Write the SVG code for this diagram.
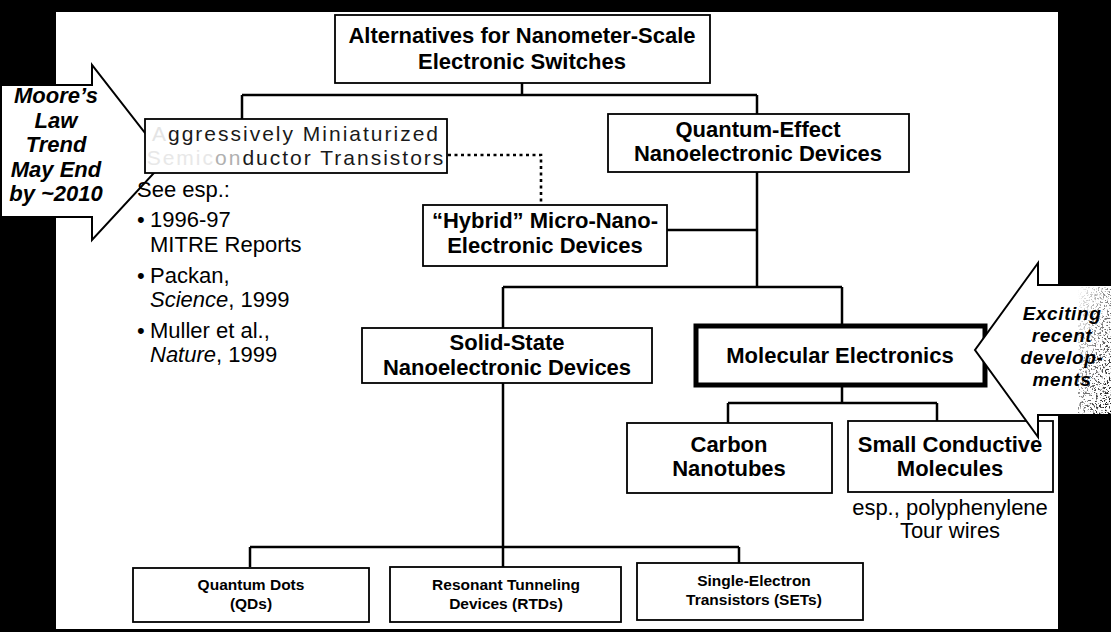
<svg xmlns="http://www.w3.org/2000/svg" width="1111" height="632" viewBox="0 0 1111 632">
<defs>
<style>
.box{fill:#fff;stroke:#000;stroke-width:1.8}
.thick{fill:#fff;stroke:#000;stroke-width:5}
.lbl{font-family:"Liberation Sans",Arial,sans-serif;font-weight:bold;font-size:22px;fill:#000;text-anchor:middle}
.sm{font-size:15.5px}
.con{fill:none;stroke:#000;stroke-width:2.5}
.dot{fill:none;stroke:#000;stroke-width:2.6;stroke-dasharray:3 3.5}
.arrow{fill:#fff;stroke:#000;stroke-width:2;stroke-linejoin:miter}
.note{font-family:"Liberation Sans",Arial,sans-serif;font-size:22px;fill:#000}
.call{font-family:"Liberation Sans",Arial,sans-serif;font-weight:bold;font-style:italic;font-size:22px;fill:#000;text-anchor:middle}
.call2{font-family:"Liberation Sans",Arial,sans-serif;font-weight:bold;font-style:italic;font-size:19px;letter-spacing:0.6px;fill:#000;text-anchor:middle}
.faded{font-family:"Liberation Sans",Arial,sans-serif;font-size:21px;letter-spacing:2px;fill:#1a1a1a;text-anchor:middle}
</style>
<filter id="speck" x="0" y="0" width="100%" height="100%">
<feTurbulence type="fractalNoise" baseFrequency="0.55" numOctaves="2" seed="4" result="n"/>
<feColorMatrix in="n" type="matrix" values="0 0 0 0 0  0 0 0 0 0  0 0 0 0 0  0 0 0 -10 4.6" result="a"/>
<feComposite in="a" in2="SourceGraphic" operator="in"/>
</filter>
<linearGradient id="fade" x1="0" y1="0" x2="1" y2="1">
<stop offset="0" stop-color="#000" stop-opacity="0"/>
<stop offset="0.5" stop-color="#000" stop-opacity="0.5"/>
<stop offset="1" stop-color="#000" stop-opacity="1"/>
</linearGradient>
</defs>

<rect id="background" x="0" y="0" width="1111" height="632" fill="#000"/>
<rect id="panel" x="56" y="12" width="1002" height="617" fill="#fff"/>

<g id="connectors">
<path class="con" d="M522,83 V95 M242,95 H757 M242,95 V119 M757,95 V114"/>
<path class="con" d="M757,172 V287 M667,230 H757 M503,287 H842 M503,287 V328 M842,287 V326"/>
<path class="con" d="M503,383 V567 M250,547 H739 M250,547 V567 M739,547 V563"/>
<path class="con" d="M842,385 V403 M728,403 H937 M728,403 V423 M937,403 V421"/>
<path class="dot" d="M448,155 H541 V205"/>
</g>

<g id="moore-arrow">
<polygon class="arrow" points="1,85 92,85 92,65 166,160 92,240 92,217 1,217"/>
<text class="call" x="56" y="103">Moore’s</text>
<text class="call" x="56" y="128">Law</text>
<text class="call" x="56" y="152">Trend</text>
<text class="call" x="56" y="177">May End</text>
<text class="call" x="56" y="201">by ~2010</text>
</g>

<g id="node-top">
<rect class="box" x="335" y="15" width="375" height="68"/>
<text class="lbl" x="522" y="43">Alternatives for Nanometer-Scale</text>
<text class="lbl" x="522" y="69">Electronic Switches</text>
</g>

<g id="node-aggressive">
<rect class="box" x="145" y="119" width="302" height="54"/>
<text class="faded" x="296" y="141"><tspan fill="#e4e4e4">A</tspan>ggressively Miniaturized</text>
<text class="faded" x="296" y="165"><tspan fill="#e8e8e8">Semic</tspan><tspan fill="#b0b0b0">on</tspan>ductor Transistors</text>
</g>

<g id="node-quantum">
<rect class="box" x="608" y="114" width="301" height="58"/>
<text class="lbl" x="758" y="137">Quantum-Effect</text>
<text class="lbl" x="758" y="161">Nanoelectronic Devices</text>
</g>

<g id="node-hybrid">
<rect class="box" x="423" y="205" width="244" height="61"/>
<text class="lbl" x="545" y="228">“Hybrid” Micro-Nano-</text>
<text class="lbl" x="545" y="253">Electronic Devices</text>
</g>

<g id="node-notes">
<text class="note" x="137" y="197">See esp.:</text>
<text class="note" x="137" y="227">•</text>
<text class="note" x="150" y="227">1996-97</text>
<text class="note" x="150" y="252">MITRE Reports</text>
<text class="note" x="137" y="283">•</text>
<text class="note" x="150" y="283">Packan,</text>
<text class="note" x="150" y="307"><tspan font-style="italic">Science</tspan>, 1999</text>
<text class="note" x="137" y="338">•</text>
<text class="note" x="150" y="338">Muller et al.,</text>
<text class="note" x="150" y="362"><tspan font-style="italic">Nature</tspan>, 1999</text>
</g>

<g id="node-solid">
<rect class="box" x="362" y="328" width="290" height="55"/>
<text class="lbl" x="507" y="350" font-size="21">Solid-State</text>
<text class="lbl" x="507" y="375" font-size="21">Nanoelectronic Devices</text>
</g>

<g id="node-molecular">
<rect class="thick" x="696" y="326" width="289" height="59"/>
<text class="lbl" x="840" y="363">Molecular Electronics</text>
</g>

<g id="node-carbon">
<rect class="box" x="627" y="423" width="205" height="70"/>
<text class="lbl" x="729" y="452">Carbon</text>
<text class="lbl" x="729" y="476">Nanotubes</text>
</g>

<g id="node-small">
<rect class="box" x="848" y="421" width="205" height="71"/>
<text class="lbl" x="950" y="452">Small Conductive</text>
<text class="lbl" x="950" y="476">Molecules</text>
<text class="note" x="950" y="515" text-anchor="middle">esp., polyphenylene</text>
<text class="note" x="950" y="538" text-anchor="middle">Tour wires</text>
</g>

<g id="node-qd">
<rect class="box" x="133" y="568" width="236" height="54"/>
<text class="lbl sm" x="251" y="590">Quantum Dots</text>
<text class="lbl sm" x="251" y="609">(QDs)</text>
</g>

<g id="node-rtd">
<rect class="box" x="390" y="567" width="231" height="55"/>
<text class="lbl sm" x="506" y="590">Resonant Tunneling</text>
<text class="lbl sm" x="506" y="609">Devices (RTDs)</text>
</g>

<g id="node-set">
<rect class="box" x="637" y="563" width="226" height="57"/>
<text class="lbl sm" x="754" y="586">Single-Electron</text>
<text class="lbl sm" x="754" y="605">Transistors (SETs)</text>
</g>

<g id="exciting-arrow">
<polygon class="arrow" points="1112,285 1038,285 1038,263 975,350 1038,437 1038,415 1112,415"/>
<rect x="1078" y="287" width="33" height="127" fill="url(#fade)" filter="url(#speck)"/>
<text class="call2" x="1062" y="320">Exciting</text>
<text class="call2" x="1062" y="342">recent</text>
<text class="call2" x="1062" y="364">develop-</text>
<text class="call2" x="1062" y="386">ments</text>
</g>
</svg>
